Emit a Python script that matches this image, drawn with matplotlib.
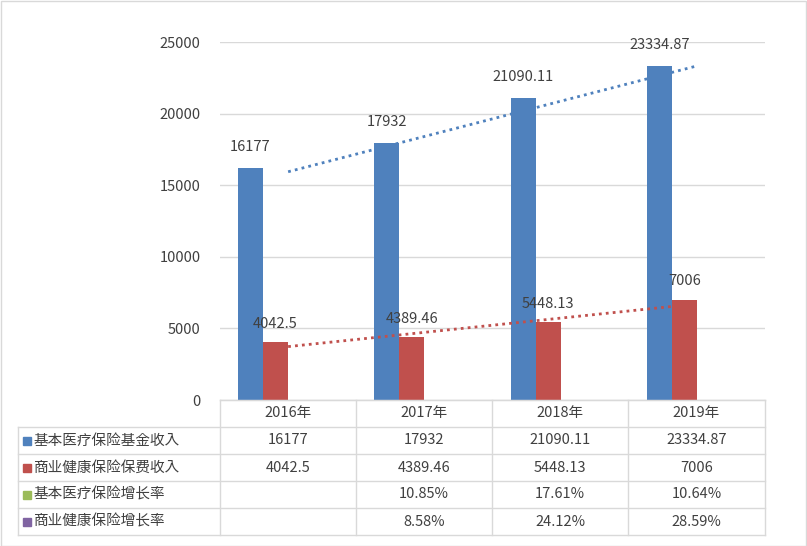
import numpy as np
import matplotlib
matplotlib.use('Agg')
import matplotlib.pyplot as plt
from matplotlib import font_manager
from matplotlib.patches import Rectangle

avail = {f.name for f in font_manager.fontManager.ttflist}
cjk = [n for n in ['Noto Sans CJK SC', 'Noto Sans CJK JP', 'Noto Sans CJK TC', 'Noto Sans CJK KR']
       if n in avail]
plt.rcParams['font.family'] = cjk + ['DejaVu Sans']

years      = ['2016年', '2017年', '2018年', '2019年']
basic_inc  = [16177, 17932, 21090.11, 23334.87]
comm_inc   = [4042.5, 4389.46, 5448.13, 7006]
basic_lbl  = ['16177', '17932', '21090.11', '23334.87']
comm_lbl   = ['4042.5', '4389.46', '5448.13', '7006']
basic_rate = ['', '10.85%', '17.61%', '10.64%']
comm_rate  = ['', '8.58%', '24.12%', '28.59%']
row_names  = ['基本医疗保险基金收入', '商业健康保险保费收入', '基本医疗保险增长率', '商业健康保险增长率']
row_colors = ['#4F81BD', '#C0504D', '#9BBB59', '#8064A2']

W, H = 807, 546
fig = plt.figure(figsize=(W / 100, H / 100), dpi=100)
# plot area in pixels: x 220-765, y 42-400
ax = fig.add_axes([220 / W, 1 - 400 / H, 545 / W, 358 / H])

x = np.arange(len(years))
bw = 25 / 136
ax.bar(x - 2 * bw, basic_inc, bw, color=row_colors[0], align='edge')
ax.bar(x - bw, comm_inc, bw, color=row_colors[1], align='edge')

for i in range(len(years)):
    ax.text(x[i] - 1.5 * bw, basic_inc[i] + 1000, basic_lbl[i], ha='center',
            va='bottom', fontsize=10.5, color='#404040')
    ax.text(x[i] - 0.5 * bw, comm_inc[i] + 800, comm_lbl[i], ha='center',
            va='bottom', fontsize=10.5, color='#404040')

# linear trendlines
for vals, c in [(basic_inc, row_colors[0]), (comm_inc, row_colors[1])]:
    k, b = np.polyfit(x, vals, 1)
    ax.plot(x, k * x + b, color=c, linestyle=(0, (1, 1.5)), linewidth=2)

ax.set_xlim(-0.5, 3.5)
ax.set_ylim(0, 25000)
ax.set_yticks(range(0, 25001, 5000))
ax.tick_params(axis='y', length=0, labelsize=10.5, labelcolor='#404040', pad=14)
ax.set_xticks([])
ax.grid(axis='y', color='#D9D9D9', linewidth=1)
ax.set_axisbelow(True)
for s in ['top', 'right', 'left']:
    ax.spines[s].set_visible(False)
ax.spines['bottom'].set_color('#D9D9D9')

# data table drawn in pixel coordinates
def fx(px):
    return px / W

def fy(py):
    return 1 - py / H

lc = '#D9D9D9'
col_x = [220, 356, 492, 628, 765]
row_y = [400, 427, 454, 481, 508, 535]
for cx in col_x:
    fig.add_artist(plt.Line2D([fx(cx), fx(cx)], [fy(400), fy(535)], color=lc, lw=1))
fig.add_artist(plt.Line2D([fx(18), fx(18)], [fy(427), fy(535)], color=lc, lw=1))
for i, ry in enumerate(row_y):
    x0 = 220 if i == 0 else 18
    fig.add_artist(plt.Line2D([fx(x0), fx(765)], [fy(ry), fy(ry)], color=lc, lw=1))

for j, yr in enumerate(years):
    fig.text(fx((col_x[j] + col_x[j + 1]) / 2), fy(413), yr, ha='center', va='center',
             fontsize=10.5, color='#404040')

rows = [basic_lbl, comm_lbl, basic_rate, comm_rate]
for i, (name, vals) in enumerate(zip(row_names, rows)):
    cy = (row_y[i + 1] + row_y[i + 2]) / 2
    fig.add_artist(Rectangle((fx(23), fy(cy + 4)), 8 / W, 8 / H, color=row_colors[i]))
    fig.text(fx(34), fy(cy), name, ha='left', va='center', fontsize=10.5, color='#404040')
    for j, v in enumerate(vals):
        fig.text(fx((col_x[j] + col_x[j + 1]) / 2), fy(cy), v, ha='center', va='center',
                 fontsize=10.5, color='#404040')

fig.add_artist(Rectangle((0.5 / W, 0.5 / H), 1 - 1.5 / W, 1 - 1.5 / H, fill=False,
                         edgecolor='#D9D9D9', lw=1))

fig.savefig('out.png', dpi=100)
